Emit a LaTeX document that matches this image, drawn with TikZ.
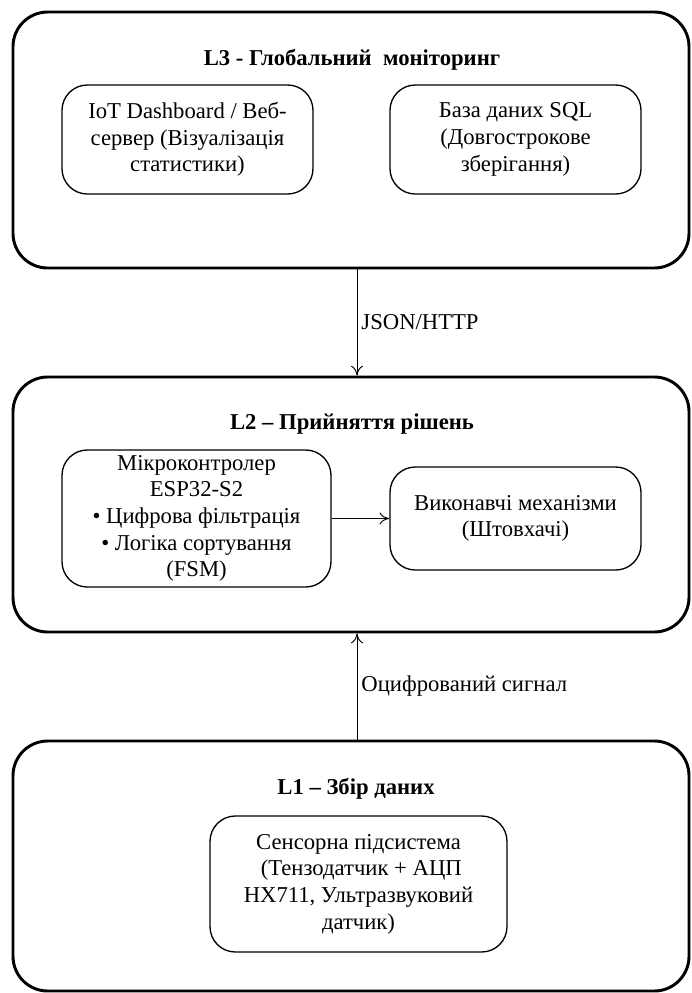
\documentclass[tikz,border=0pt]{standalone}
\usepackage{fontspec}
\setmainfont{Liberation Serif}
\usepackage{tikz}
\usetikzlibrary{arrows.meta,positioning}

\begin{document}
\begin{tikzpicture}[
    x=0.75pt,y=-0.75pt,
    font=\fontsize{17}{20}\selectfont,
    layer/.style={draw=black,line width=2.2pt,rounded corners=26pt,
      minimum width=507pt},
    unit/.style={draw=black,line width=1pt,rounded corners=19pt,align=center,
      inner sep=2pt},
    ltitle/.style={font=\fontsize{17}{20}\selectfont\bfseries},
    flow/.style={-{To[length=2.6mm,width=3.2mm]},draw=black,line width=0.7pt},
    note/.style={align=left,inner sep=3pt}
  ]
    \useasboundingbox (0,0) rectangle (692,993);
    % three layers
    \node[layer,minimum height=192pt] (l3) at (351,140) {};
    \node[layer,minimum height=191.25pt] (l2) at (351,504.5) {};
    \node[layer,minimum height=187.5pt] (l1) at (351,866) {};
    \node[ltitle] (l3title) at (352,60) {L3 - Глобальний~ моніторинг};
    \node[ltitle] (l2title) at (352,424) {L2 – Прийняття рішень};
    \node[ltitle] (l1title) at (356,789) {L1 – Збір даних};
    % L3
    \node[unit,minimum width=188.25pt,minimum height=81.75pt] (dash) at (187.5,139.5)
      {IoT Dashboard / Веб-\\сервер (Візуалізація\\статистики)};
    \node[unit,minimum width=188.25pt,minimum height=81.75pt] (sql) at (515.5,139.5)
      {База даних SQL\\(Довгострокове\\зберігання)};
    % L2
    \node[unit,minimum width=201.75pt,minimum height=102.75pt] (mcu) at (196.5,518.5)
      {Мікроконтролер\\ESP32-S2\\• Цифрова фільтрація\\• Логіка сортування\\(FSM)};
    \node[unit,minimum width=188.25pt,minimum height=77.25pt] (act) at (515.5,518.5)
      {Виконавчі механізми\\(Штовхачі)};
    % L1
    \node[unit,minimum width=222.75pt,minimum height=102pt] (sensor) at (358.5,884)
      {Сенсорна підсистема\\~(Тензодатчик + АЦП\\HX711, Ультразвуковий\\датчик)};
    \draw[flow] (mcu) -- (act);
    \draw[flow] ([xshift=4.5pt]l3.south) -- node[note,right]{JSON/HTTP} ([xshift=4.5pt]l2.north);
    \draw[flow] ([xshift=4.5pt]l1.north) -- node[note,right]{Оцифрований сигнал} ([xshift=4.5pt]l2.south);
  \end{tikzpicture}
\end{document}
